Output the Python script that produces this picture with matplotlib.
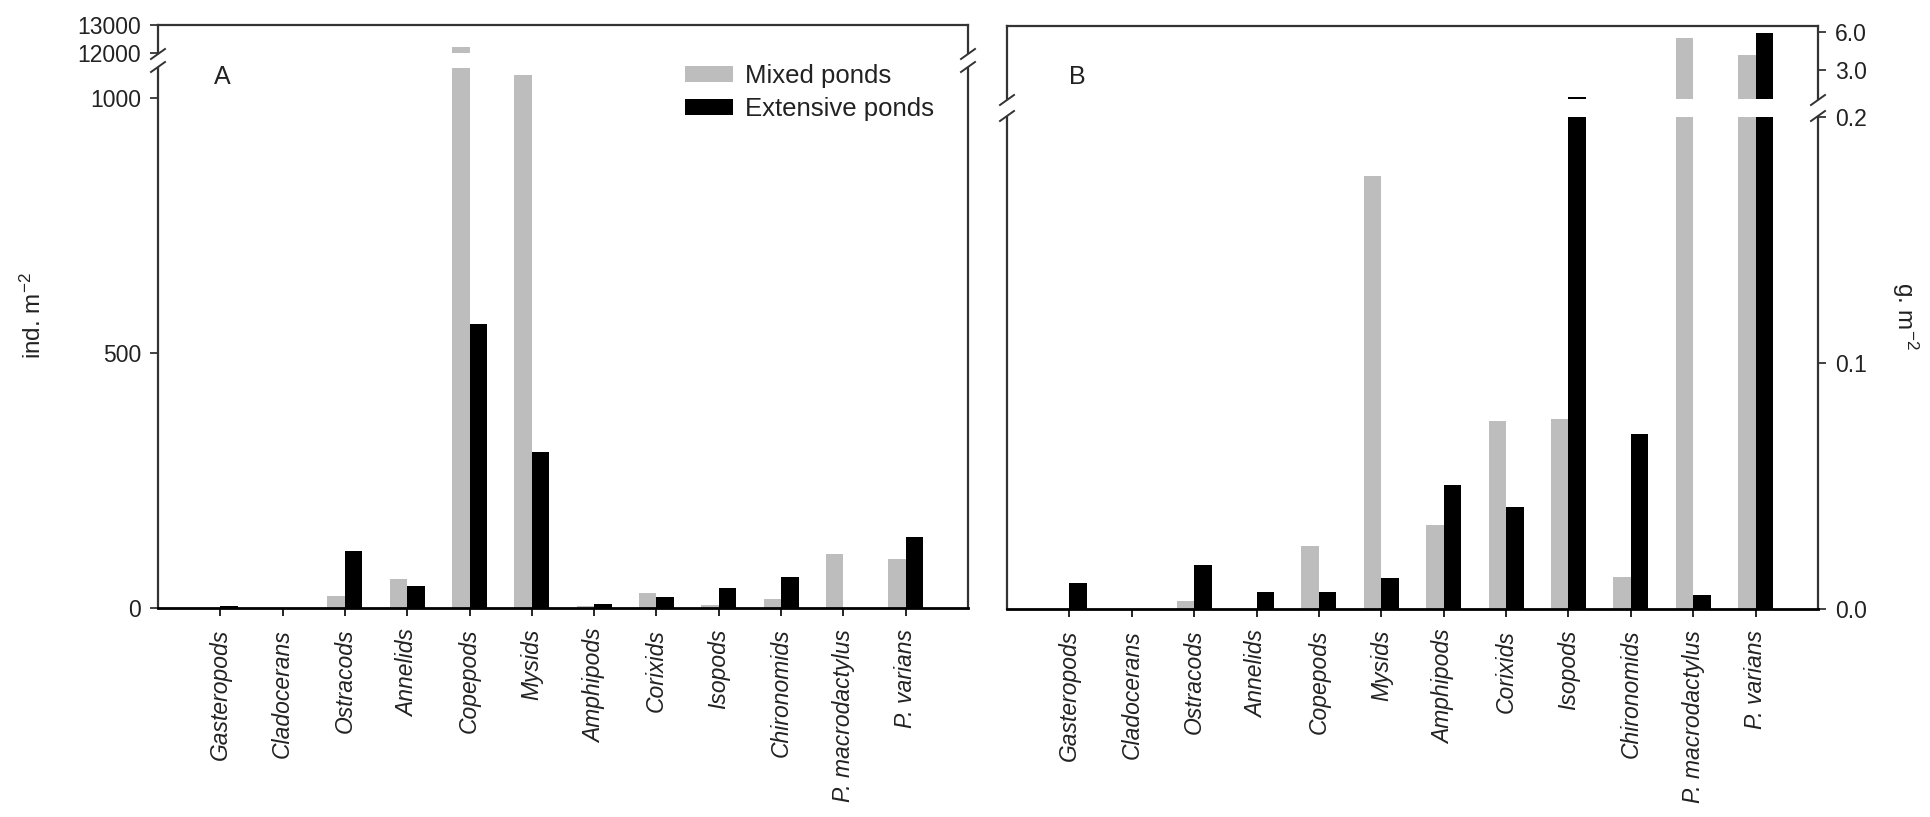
import matplotlib
matplotlib.use('Agg')
import matplotlib.pyplot as plt
from matplotlib.lines import Line2D
import numpy as np

plt.rcParams['font.family'] = ['Liberation Sans', 'DejaVu Sans']
plt.rcParams['font.size'] = 16.5
plt.rcParams['mathtext.default'] = 'regular'

W, H = 1931, 817
fig = plt.figure(figsize=(W / 100, H / 100), dpi=100)
fig.patch.set_facecolor('white')

GREY = '#BDBDBD'
BLACK = '#000000'
SPINE = '#333333'
TXT = '#222222'

# data
categories = ['Gasteropods', 'Cladocerans', 'Ostracods', 'Annelids', 'Copepods',
              'Mysids', 'Amphipods', 'Corixids', 'Isopods', 'Chironomids',
              'P. macrodactylus', 'P. varians']
abund_mixed = [0, 0, 24, 56, 12220, 1045, 4, 30, 5, 17, 106, 96]
abund_ext = [3, 0, 112, 43, 557, 306, 8, 22, 40, 61, 0, 140]
biom_mixed = [0, 0, 0.0034, 0, 0.0255, 0.176, 0.034, 0.0766, 0.0774, 0.0132, 5.5, 4.17]
biom_ext = [0.0107, 0, 0.0179, 0.0069, 0.0069, 0.0125, 0.0505, 0.0413, 0.86, 0.0712, 0.0055, 5.87]

x = np.arange(len(categories))
bw = 0.28


def fx(px):
    return px / W


def fy(py):
    return 1 - py / H


def add_pair(left, right, up_top, up_bot, lo_top, lo_bot):
    ax_up = fig.add_axes([fx(left), fy(up_bot), fx(right - left), fy(up_top) - fy(up_bot)])
    ax_lo = fig.add_axes([fx(left), fy(lo_bot), fx(right - left), fy(lo_top) - fy(lo_bot)])
    for ax in (ax_up, ax_lo):
        ax.set_xlim(-1, 12)
        for s in ax.spines.values():
            s.set_color(SPINE)
            s.set_linewidth(1.6)
    ax_up.spines['bottom'].set_visible(False)
    ax_lo.spines['top'].set_visible(False)
    ax_lo.spines['bottom'].set_color(BLACK)
    ax_lo.spines['bottom'].set_linewidth(2.0)
    ax_up.set_xticks([])
    ax_lo.set_xticks(x)
    ax_lo.set_xticklabels(categories, rotation=90, style='italic', color=TXT)
    ax_lo.tick_params(axis='x', direction='out', length=6, width=1.2, pad=9)
    return ax_up, ax_lo


def draw_bars(axes, mixed, ext):
    for ax in axes:
        ax.bar(x - bw / 2, mixed, bw, color=GREY, label='Mixed ponds', zorder=2)
        ax.bar(x + bw / 2, ext, bw, color=BLACK, label='Extensive ponds', zorder=2)


def slash(xp, yp):
    fig.add_artist(Line2D([fx(xp - 7), fx(xp + 7)], [fy(yp + 5), fy(yp - 5)],
                          color=SPINE, lw=1.4))


# ── Panel A: abundance ──
a_up, a_lo = add_pair(158, 968, 25, 53, 68, 608)
draw_bars((a_up, a_lo), abund_mixed, abund_ext)
a_up.set_ylim(12000, 13000)
a_lo.set_ylim(0, 1058)
a_up.set_yticks([12000, 13000])
a_lo.set_yticks([0, 500, 1000])
for ax in (a_up, a_lo):
    ax.tick_params(axis='y', direction='out', length=6, width=1.2, pad=6, colors=TXT)
for xp in (158, 968):
    slash(xp, 54)
    slash(xp, 67)
fig.text(fx(222), fy(77), 'A', fontsize=18, ha='center', va='center', color=TXT)
leg = a_lo.legend(loc='upper left', bbox_to_anchor=(fx(685), fy(64)),
                  bbox_transform=fig.transFigure, frameon=False, borderpad=0,
                  borderaxespad=0, handlelength=1.87, handleheight=0.6,
                  handletextpad=0.47, labelspacing=0.36, fontsize=18.5)
for t in leg.get_texts():
    t.set_color(TXT)

# ── Panel B: biomass ──
b_up, b_lo = add_pair(1007, 1818, 25.7, 99.3, 117, 609)
draw_bars((b_up, b_lo), biom_mixed, biom_ext)
b_up.set_ylim(0.7, 6.47)
b_lo.set_ylim(0, 0.2)
b_up.set_yticks([3.0, 6.0])
b_lo.set_yticks([0.0, 0.1, 0.2])
for ax in (b_up, b_lo):
    ax.yaxis.tick_right()
    ax.yaxis.set_major_formatter(matplotlib.ticker.FormatStrFormatter('%.1f'))
    ax.tick_params(axis='y', direction='out', length=6, width=1.2, pad=6, colors=TXT)
for xp in (1007, 1818):
    slash(xp, 100)
    slash(xp, 116)
fig.text(fx(1077), fy(77), 'B', fontsize=18, ha='center', va='center', color=TXT)

# axis titles
fig.text(fx(33), fy(316), 'ind. m$^{-2}$', rotation=90, ha='center', va='center',
         fontsize=17.5, color=TXT)
fig.text(fx(1905), fy(316), 'g. m$^{-2}$', rotation=270, ha='center', va='center',
         fontsize=17.5, color=TXT)

fig.savefig('out.png', dpi=100, facecolor='white')
